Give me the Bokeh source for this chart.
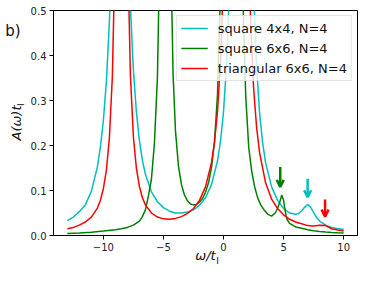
from bokeh.plotting import figure
from bokeh.models import Range1d, FixedTicker, LinearAxis, Arrow, OpenHead
from bokeh.embed import file_html
from bokeh.resources import INLINE

# ---- data ----
series_names = ["square 4x4, N=4", "square 6x6, N=4", "triangular 6x6, N=4"]
series_colors = ["#00bfbf", "#008000", "#ff0000"]

cyan_x = [-13, -12.5, -12, -11.5, -11, -10.5, -10.25, -10, -9.75, -9.5, -9.25, -9, -8.6, -8.2, -8,
          -7.75, -7.5, -7.25, -7, -6.75, -6.5, -6, -5.5, -5, -4.5, -4, -3.5, -3, -2.5, -2, -1.5,
          -1, -0.5, -0.25, 0, 0.25, 0.5, 1.5, 2.5, 2.75, 3, 3.25, 3.5, 4, 4.5, 5, 5.5, 6, 6.25,
          6.5, 6.75, 7, 7.25, 7.5, 7.75, 8, 8.5, 9, 9.5, 10]
cyan_y = [0.033, 0.041, 0.053, 0.068, 0.098, 0.152, 0.196, 0.255, 0.342, 0.473, 0.666, 0.924, 1.21, 0.926, 0.716,
          0.509, 0.367, 0.274, 0.211, 0.167, 0.136, 0.097, 0.075, 0.062, 0.054, 0.050, 0.050, 0.052, 0.057, 0.067, 0.084,
          0.113, 0.166, 0.210, 0.275, 0.378, 0.549, 3.0, 0.547, 0.376, 0.273, 0.207, 0.162, 0.108, 0.078, 0.060, 0.050, 0.047, 0.049,
          0.055, 0.063, 0.069, 0.063, 0.051, 0.040, 0.032, 0.023, 0.018, 0.0153, 0.0131]

green_x = [-13, -12, -11, -10, -9, -8.5, -8, -7.5, -7, -6.75, -6.5, -6.25, -6, -5.75, -5.5,
           -5.25, -4.85, -4.45, -4.2, -4, -3.75, -3.5, -3.25, -3, -2.75, -2.5, -2.25, -2, -1.75, -1.5,
           -1.25, -1, -0.75, -0.5, -0.25, 0.65, 1.6, 1.85, 2.1, 2.35, 2.6, 2.85, 3.1, 3.4, 3.7,
           4.0, 4.3, 4.5, 4.7, 4.85, 5.0, 5.1, 5.2, 5.3, 5.5, 6, 6.5, 7, 7.5, 8, 8.5, 9, 9.5, 10]
green_y = [0.0045, 0.0057, 0.0072, 0.0098, 0.013, 0.015, 0.018, 0.023, 0.032, 0.042, 0.057, 0.088, 0.125, 0.205, 0.352,
           0.717, 2.0, 0.722, 0.359, 0.233, 0.154, 0.113, 0.090, 0.077, 0.070, 0.068, 0.069, 0.074, 0.082, 0.096,
           0.117, 0.151, 0.208, 0.314, 0.545, 5.0, 0.541, 0.308, 0.195, 0.142, 0.107, 0.083, 0.068, 0.056, 0.047,
           0.043, 0.050, 0.060, 0.076, 0.090, 0.078, 0.060, 0.045, 0.035, 0.027, 0.019, 0.016, 0.013, 0.0105, 0.009,
           0.0078, 0.0068, 0.006, 0.0053]

red_x = [-13, -12.5, -12, -11.5, -11, -10.5, -10.25, -10, -9.75, -9.5, -9.25, -9, -8.75, -8.5, -8.25, -8,
         -7.75, -7.5, -7.25, -7, -6.75, -6.5, -6, -5.5, -5, -4.5, -4, -3.5, -3, -2.5, -2, -1.5,
         -1, -0.75, -0.5, -0.25, 0, 1.07, 2, 2.25, 2.5, 2.75, 3, 3.5, 4, 4.5, 5, 5.5, 6, 6.5,
         7, 7.5, 8, 8.5, 9, 9.5, 10]
red_y = [0.015, 0.018, 0.023, 0.030, 0.041, 0.061, 0.078, 0.104, 0.145, 0.216, 0.354, 0.663, 1.41, 2.26, 1.41, 0.664,
         0.356, 0.219, 0.149, 0.109, 0.084, 0.068, 0.050, 0.041, 0.037, 0.036, 0.038, 0.042, 0.049, 0.060, 0.078, 0.108,
         0.162, 0.208, 0.276, 0.386, 0.577, 13.7, 0.752, 0.478, 0.329, 0.241, 0.184, 0.117, 0.081, 0.060, 0.046, 0.036, 0.030, 0.026,
         0.022, 0.021, 0.023, 0.022, 0.015, 0.012, 0.010]

# arrows marking the satellite peaks
arrow_x = [4.72, 7.0, 8.45]
arrow_top = [0.152, 0.126, 0.080]
arrow_tip = [0.108, 0.085, 0.042]
arrow_colors = ["#008000", "#00bfbf", "#ff0000"]

x_ticks = [-10, -5, 0, 5, 10]
x_tick_labels = ["−10", "−5", "0", "5", "10"]
y_ticks = [0.0, 0.1, 0.2, 0.3, 0.4, 0.5]
y_tick_labels = ["0.0", "0.1", "0.2", "0.3", "0.4", "0.5"]

x_label_main, x_label_sub = "ω/t", "I"
y_label_main, y_label_sub = "A(ω)t", "I"
panel_tag = "b)"

FONT = "DejaVu Sans"
TXT = "#111111"

p = figure(width=358, height=265, output_backend="svg", toolbar_location=None,
           x_range=Range1d(-14.15, 11.15), y_range=Range1d(0, 0.5),
           min_border_left=53, min_border_right=1, min_border_top=10, min_border_bottom=28)

p.xgrid.visible = False
p.ygrid.visible = False
p.outline_line_color = "black"
p.outline_line_width = 1
p.outline_line_alpha = 1

p.xaxis.ticker = FixedTicker(ticks=x_ticks)
p.yaxis.ticker = FixedTicker(ticks=y_ticks)
p.xaxis.major_label_overrides = dict(zip(x_ticks, x_tick_labels))
p.yaxis.major_label_overrides = dict(zip(y_ticks, y_tick_labels))
for ax in (p.xaxis, p.yaxis):
    ax.axis_line_color = "black"
    ax.major_tick_line_color = "black"
    ax.major_tick_in = 0
    ax.major_tick_out = 4
    ax.minor_tick_line_color = None
    ax.major_label_text_font = FONT
    ax.major_label_text_font_size = "10px"
    ax.major_label_text_color = "#222222"
    ax.major_label_standoff = 3

xs = [cyan_x, green_x, red_x]
ys = [cyan_y, green_y, red_y]
for sx, sy, name, col in zip(xs, ys, series_names, series_colors):
    p.line(sx, sy, line_color=col, line_width=1.5, legend_label=name)

for ax_, top, tip, col in zip(arrow_x, arrow_top, arrow_tip, arrow_colors):
    p.add_layout(Arrow(end=OpenHead(size=7, line_color=col, line_width=2.5),
                       x_start=ax_, y_start=top, x_end=ax_, y_end=tip,
                       line_color=col, line_width=2.5))

lg = p.legend[0]
lg.location = "top_right"
lg.margin = 5
lg.padding = 4
lg.spacing = 4
lg.glyph_width = 27
lg.glyph_height = 16
lg.label_height = 16
lg.label_standoff = 10
lg.label_text_font = FONT
lg.label_text_font_size = "13px"
lg.label_text_color = TXT
lg.border_line_color = "#cccccc"
lg.border_line_width = 1
lg.background_fill_alpha = 0.8


def bare_axis(tick, text, size, standoff):
    a = LinearAxis(ticker=FixedTicker(ticks=[tick]), major_label_overrides={tick: text})
    a.axis_line_color = None
    a.major_tick_line_color = None
    a.minor_tick_line_color = None
    a.major_tick_out = 0
    a.major_tick_in = 0
    a.major_label_text_font = FONT
    a.major_label_text_font_size = size
    a.major_label_text_color = TXT
    a.major_label_standoff = standoff
    return a


# y-axis title: subscript as a tick label, main part as the axis label
ylab = bare_axis(0.291, y_label_sub, "9px", 1)
ylab.major_label_orientation = "vertical"
ylab.axis_label = y_label_main
ylab.axis_label_text_font = FONT
ylab.axis_label_text_font_size = "13px"
ylab.axis_label_text_font_style = "italic"
ylab.axis_label_text_color = TXT
ylab.axis_label_standoff = -10
p.add_layout(ylab, "left")

# panel tag "b)"
tag = bare_axis(0.454, panel_tag, "15px", -15)
p.add_layout(tag, "left")

# x-axis title
xlab = bare_axis(-0.5, x_label_sub, "9px", 2)
xlab.axis_label = x_label_main
xlab.axis_label_text_font = FONT
xlab.axis_label_text_font_size = "13px"
xlab.axis_label_text_font_style = "italic"
xlab.axis_label_text_color = TXT
xlab.axis_label_standoff = -21
p.add_layout(xlab, "below")

open("out.html", "w").write(file_html(p, INLINE))
